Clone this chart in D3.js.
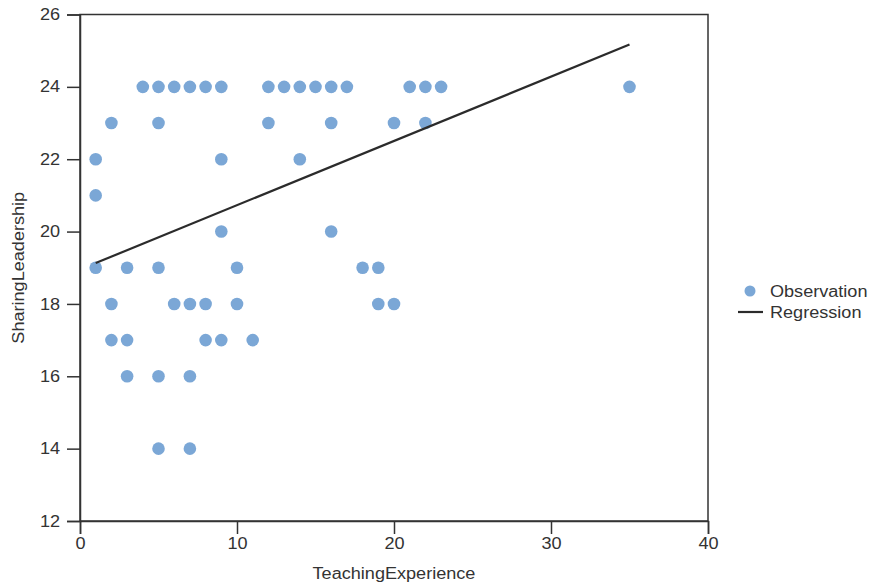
<!DOCTYPE html>
<html><head><meta charset="utf-8">
<script src="https://cdn.jsdelivr.net/npm/d3@7"></script>
<style>body{margin:0;background:#fff;} text{font-family:"Liberation Sans",Arial,sans-serif;}</style>
</head><body><svg id="c" width="870" height="587"></svg>
<script>
// Observations: TeachingExperience (x) and SharingLeadership (y)
const teachingExperience = [4,5,6,7,8,9,12,13,14,15,16,17,21,22,23,35, 2,5,12,16,20,22, 1,9,14, 1, 9,16, 1,3,5,10,18,19, 2,6,7,8,10,19,20, 2,3,8,9,11, 3,5,7, 5,7];
const sharingLeadership  = [24,24,24,24,24,24,24,24,24,24,24,24,24,24,24,24, 23,23,23,23,23,23, 22,22,22, 21, 20,20, 19,19,19,19,19,19, 18,18,18,18,18,18,18, 17,17,17,17,17, 16,16,16, 14,14];
const regressionX = [1, 35];
const regressionY = [19.13, 25.17];
const xTicks = [0,10,20,30,40];
const yTicks = [12,14,16,18,20,22,24,26];
const legendLabels = ["Observation","Regression"];

const svg = d3.select("#c");
const L=80, R=708, T=14.5, B=521;
const x = d3.scaleLinear().domain([0,40]).range([L,R]);
const y = d3.scaleLinear().domain([12,26]).range([B,T]);
const axisColor="#333", ptColor="#7ba7d6";
const FS = "16px", WIDEN = 1.13;
function widen(sel){ sel.each(function(){ const w=this.getComputedTextLength(); this.setAttribute("textLength", w*WIDEN); this.setAttribute("lengthAdjust","spacingAndGlyphs"); }); }

// frame
svg.append("rect").attr("x",L).attr("y",T).attr("width",R-L).attr("height",B-T)
  .attr("fill","none").attr("stroke",axisColor).attr("stroke-width",1.5);

const gx = svg.append("g").attr("transform",`translate(0,${B})`)
  .call(d3.axisBottom(x).tickValues(xTicks).tickSize(13).tickPadding(4).tickFormat(d3.format("d")));
const gy = svg.append("g").attr("transform",`translate(${L},0)`)
  .call(d3.axisLeft(y).tickValues(yTicks).tickSize(13).tickPadding(7).tickFormat(d3.format("d")));
[gx,gy].forEach(g=>{
  g.select(".domain").attr("stroke",axisColor).attr("stroke-width",1.5);
  g.selectAll(".tick line").attr("stroke",axisColor).attr("stroke-width",1.5);
  g.selectAll(".tick text").attr("fill","#333").style("font-size",FS).style("font-family","'Liberation Sans',Arial,sans-serif").call(widen);
});

// points
svg.append("g").selectAll("circle").data(teachingExperience.map((v,i)=>[v,sharingLeadership[i]]))
  .join("circle").attr("cx",d=>x(d[0])).attr("cy",d=>y(d[1])).attr("r",6.3).attr("fill",ptColor);

// regression
svg.append("path").datum(regressionX.map((v,i)=>[v,regressionY[i]]))
  .attr("d",d3.line().x(d=>x(d[0])).y(d=>y(d[1])))
  .attr("stroke","#2b2b2b").attr("stroke-width",2.2).attr("fill","none");

// axis titles
svg.append("text").attr("x",(L+R)/2).attr("y",579).attr("text-anchor","middle")
  .attr("fill","#333").style("font-size",FS).text("TeachingExperience").call(widen);
svg.append("text").attr("transform",`translate(24,${(T+B)/2}) rotate(-90)`).attr("text-anchor","middle")
  .attr("fill","#333").style("font-size",FS).text("SharingLeadership").call(widen);

// legend
const lg = svg.append("g");
lg.append("circle").attr("cx",750).attr("cy",291).attr("r",5.5).attr("fill",ptColor);
lg.append("line").attr("x1",738).attr("x2",763).attr("y1",312).attr("y2",312).attr("stroke","#2b2b2b").attr("stroke-width",2.2);
lg.selectAll("text").data(legendLabels).join("text").attr("x",770).attr("y",(d,i)=>291+i*21).attr("dy","0.35em")
  .attr("fill","#333").style("font-size",FS).text(d=>d).call(widen);
</script></body></html>
